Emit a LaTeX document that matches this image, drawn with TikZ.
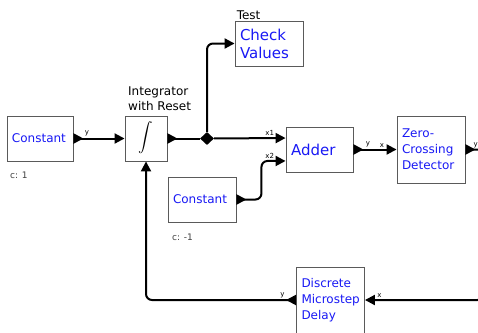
\documentclass[tikz,border=0pt]{standalone}
\usepackage{fontspec}
\setmainfont{DejaVu Sans}
\usepackage{graphicx}
\usepackage{tikz}
\usetikzlibrary{shapes.geometric,arrows.meta,calc,positioning}
\definecolor{actorblue}{RGB}{25,25,245}
\definecolor{boxgray}{RGB}{90,90,90}
\tikzset{inport/.tip={Triangle[length=10pt,width=10pt]},
  outport/.tip={Triangle[reversed,length=10pt,width=10pt]}}
\tikzstyle{actor} = [draw=boxgray, line width=0.9pt, fill=white, minimum height=45pt, inner sep=5pt, align=left, text=actorblue, font=\fontsize{12}{16}\selectfont]
\tikzstyle{conn} = [line width=2pt, rounded corners=6pt]
\tikzstyle{plabel} = [inner sep=0.5pt, font=\fontsize{7}{8}\selectfont]
\tikzstyle{note} = [inner sep=1pt, align=left, font=\fontsize{12}{15}\selectfont]
\tikzstyle{param} = [inner sep=0pt, text=black!75, font=\fontsize{9}{10}\selectfont]

\begin{document}
\begin{tikzpicture}[x=1pt,y=-1pt]
\useasboundingbox (0,0) rectangle (478,332);
\clip (0,0) rectangle (478,332);

% actors
\node[actor, minimum width=42pt, inner sep=0pt, text=black, align=center] (integ) at (146,138.5) {\smash{\raisebox{-3.5pt}{\scalebox{1.45}{$\displaystyle\int$}}}};
\node[actor, minimum width=66pt, text width=56pt] (const1) at (40,138.5) {Constant};
\node[param, anchor=west] (const1c) at (10,175) {c: 1};
\node[note, anchor=south west] (integname) at (127,112) {Integrator\\with Reset};
\node[diamond, fill=black, inner sep=0pt, minimum width=14pt, minimum height=13pt] (rel) at (207,138.5) {};
\node[actor, minimum width=68pt, text width=58pt, font=\fontsize{15}{18}\selectfont] (check) at (269,43.5) {Check\\Values};
\node[note, anchor=south west] (testname) at ([xshift=1pt]check.north west) {Test};
\node[actor, minimum width=67pt, text width=57pt, font=\fontsize{15}{18}\selectfont] (adder) at (319.5,149.5) {Adder};
\node[actor, minimum width=68pt, text width=58pt, minimum height=67pt] (zcd) at (431,149.5) {Zero-\\Crossing\\Detector};
\node[actor, minimum width=68pt, text width=58pt] (const2) at (202,199.5) {Constant};
\node[param, anchor=west] (const2c) at (172,237) {c: -1};
\node[actor, minimum width=67pt, text width=58pt, minimum height=66pt] (delay) at (330.5,300) {Discrete\\Microstep\\Delay};

% input points of the adder
\coordinate (addx1) at ($(adder.north west)!0.25!(adder.south west)$);
\coordinate (addx2) at ($(adder.north west)!0.75!(adder.south west)$);

% connections
\draw[conn, outport-inport] (const1.east) -- (integ.west)
  node[plabel, at start, anchor=south west, xshift=10pt, yshift=1pt] {y};
\draw[conn, outport-] (integ.east) -- (rel);
\draw[conn, -inport] (rel) |- (check.west);
\draw[conn, -inport] (rel) -- (addx1)
  node[plabel, at end, anchor=south east, xshift=-10pt, yshift=1pt] {x1};
\draw[conn, outport-inport] (const2.east) -- ++(25,0) |- (addx2)
  node[plabel, at end, anchor=south east, xshift=-10pt, yshift=1pt] {x2};
\draw[conn, outport-inport] (adder.east) -- (zcd.west)
  node[plabel, at start, anchor=south west, xshift=11pt, yshift=1pt] {y}
  node[plabel, at end, anchor=south east, xshift=-11pt, yshift=1pt] {x};
\draw[conn, outport-inport] (zcd.east) -- ++(18,0) |- (delay.east)
  node[plabel, at end, anchor=south west, xshift=11pt, yshift=1pt] {x};
\node[plabel, anchor=south east] (zcdy) at ([xshift=13pt, yshift=1pt]zcd.east) {y};
\draw[conn, outport-inport] (delay.west) -| (integ.south)
  node[plabel, at start, anchor=south east, xshift=-10pt, yshift=1pt] {y};
\end{tikzpicture}
\end{document}
